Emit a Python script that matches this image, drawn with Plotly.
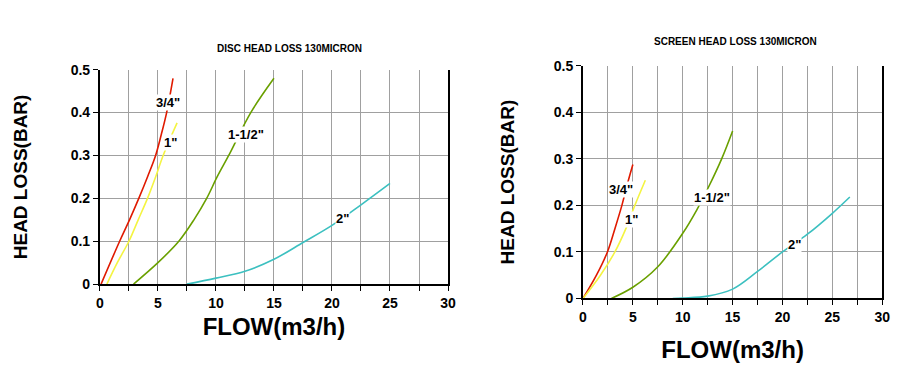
import plotly.graph_objects as go

# ---------------- DATA ----------------
# Disc filter head loss (left chart)
disc_34_x = [0.1, 1.7, 2.55, 3.35, 4.1, 4.8, 5.3, 5.75, 6.3]
disc_34_y = [0.0, 0.10, 0.15, 0.20, 0.25, 0.30, 0.35, 0.40, 0.48]
disc_1_x = [0.6, 1.5, 2.5, 3.3, 4.1, 4.8, 5.45, 6.65]
disc_1_y = [0.0, 0.05, 0.10, 0.15, 0.20, 0.25, 0.30, 0.376]
disc_112_x = [2.9, 5.0, 6.8, 8.1, 9.2, 10.1, 11.1, 13.0, 15.0]
disc_112_y = [0.0, 0.05, 0.10, 0.15, 0.20, 0.25, 0.30, 0.40, 0.48]
disc_2_x = [7.5, 10.0, 12.5, 15.0, 17.5, 20.0, 22.5, 25.0]
disc_2_y = [0.0, 0.014, 0.03, 0.058, 0.097, 0.137, 0.185, 0.235]

# Screen filter head loss (right chart)
scr_34_x = [0.0, 1.35, 2.45, 3.2, 3.9, 4.5, 5.0]
scr_34_y = [0.0, 0.05, 0.10, 0.15, 0.20, 0.25, 0.288]
scr_1_x = [0.0, 1.75, 3.2, 4.3, 5.2, 6.25]
scr_1_y = [0.0, 0.05, 0.10, 0.15, 0.20, 0.254]
scr_112_x = [2.85, 5.0, 7.5, 10.0, 11.4, 12.6, 13.9, 15.0]
scr_112_y = [0.0, 0.024, 0.068, 0.14, 0.19, 0.24, 0.30, 0.36]
scr_2_x = [9.0, 10.0, 12.5, 15.0, 17.5, 20.0, 22.5, 25.0, 26.75]
scr_2_y = [0.0, 0.001, 0.005, 0.02, 0.058, 0.10, 0.138, 0.183, 0.218]

size_names = ['3/4"', '1"', '1-1/2"', '2"']
size_colors = ["#e01a00", "#f4f442", "#6aa000", "#3cc0c0"]

# label anchor positions (data units)
disc_lbl_x = [5.9, 6.1, 12.6, 20.9]
disc_lbl_y = [0.423, 0.33, 0.35, 0.152]
scr_lbl_x = [3.8, 4.9, 12.9, 21.2]
scr_lbl_y = [0.234, 0.17, 0.218, 0.115]

titles = ["DISC HEAD LOSS 130MICRON", "SCREEN HEAD LOSS 130MICRON"]
x_title = "FLOW(m3/h)"
y_title = "HEAD LOSS(BAR)"

# ---------------- FIGURE ----------------
fig = go.Figure()
FONT = "Liberation Sans"

disc = [(disc_34_x, disc_34_y), (disc_1_x, disc_1_y), (disc_112_x, disc_112_y), (disc_2_x, disc_2_y)]
scr = [(scr_34_x, scr_34_y), (scr_1_x, scr_1_y), (scr_112_x, scr_112_y), (scr_2_x, scr_2_y)]

for series, xa, ya in [(disc, "x", "y"), (scr, "x2", "y2")]:
    for (xs, ys), name, col in zip(series, size_names, size_colors):
        fig.add_trace(go.Scatter(x=xs, y=ys, mode="lines", name=name,
                                 line=dict(color=col, width=1.6, shape="spline", smoothing=1.0),
                                 xaxis=xa, yaxis=ya, showlegend=False))

for lx, ly, xr, yr in [(disc_lbl_x, disc_lbl_y, "x", "y"), (scr_lbl_x, scr_lbl_y, "x2", "y2")]:
    for x, y, t in zip(lx, ly, size_names):
        fig.add_annotation(x=x, y=y, xref=xr, yref=yr, text=t, showarrow=False,
                           font=dict(family=FONT, size=13, color="black", weight="bold"),
                           bgcolor="white", borderpad=0)

def xaxis(dom, standoff):
    return dict(domain=dom, range=[0, 30], tickvals=[0, 5, 10, 15, 20, 25, 30],
                showgrid=True, gridcolor="#a0a0a0", gridwidth=1,
                minor=dict(dtick=2.5, tick0=0, showgrid=True, gridcolor="#a0a0a0", gridwidth=1,
                           ticks="outside", ticklen=5, tickcolor="black"),
                ticks="outside", ticklen=5, tickcolor="black",
                showline=True, linecolor="black", linewidth=2, mirror=False,
                zeroline=False, fixedrange=True,
                tickfont=dict(family=FONT, size=14, color="black", weight="bold"),
                title=dict(text=x_title, font=dict(family=FONT, size=24, color="black", weight="bold"),
                           standoff=standoff))

def yaxis(dom, anchor, standoff):
    return dict(domain=dom, range=[0, 0.5], anchor=anchor,
                showgrid=True, gridcolor="#a0a0a0", gridwidth=1,
                ticks="outside", ticklen=5, tickcolor="black",
                showline=True, linecolor="black", linewidth=2, mirror=True,
                zeroline=False, fixedrange=True,
                tickvals=[0, 0.1, 0.2, 0.3, 0.4, 0.5], ticktext=["0", "0.1", "0.2", "0.3", "0.4", "0.5"],
                tickfont=dict(family=FONT, size=14, color="black", weight="bold"),
                title=dict(text=y_title, font=dict(family=FONT, size=19, color="black", weight="bold"),
                           standoff=standoff))

fig.update_layout(
    width=900, height=374,
    margin=dict(l=0, r=0, t=0, b=0),
    paper_bgcolor="white", plot_bgcolor="white",
    xaxis=dict(xaxis([0.099, 0.491], 8), anchor="y"),
    yaxis=yaxis([0.251, 0.850], "x", 38),
    xaxis2=dict(xaxis([0.643, 0.980], 17), anchor="y2"),
    yaxis2=yaxis([0.211, 0.861], "x2", 34),
)

fig.add_annotation(x=0.313, y=1 - 34 / 374, xref="paper", yref="paper", text=titles[0], showarrow=False,
                   xanchor="center", yanchor="middle",
                   font=dict(family=FONT, size=10, color="black", weight="bold"))
fig.add_annotation(x=0.815, y=1 - 27 / 374, xref="paper", yref="paper", text=titles[1], showarrow=False,
                   xanchor="center", yanchor="middle",
                   font=dict(family=FONT, size=10, color="black", weight="bold"))

fig.write_html("out.html")
